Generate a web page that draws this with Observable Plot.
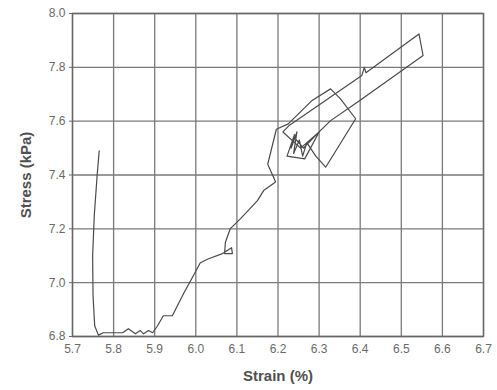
<!DOCTYPE html>
<html>
<head>
<meta charset="utf-8">
<script src="https://cdn.jsdelivr.net/npm/d3@7"></script>
<script src="https://cdn.jsdelivr.net/npm/@observablehq/plot@0.6"></script>
<style>
  html, body { margin: 0; padding: 0; background: #fff; }
  #chart svg { display: block; }
</style>
</head>
<body>
<div id="chart"></div>
<script>
// Stress–strain record of a single loading test (strain in %, stress in kPa)
const strain = [
  5.765, 5.760, 5.753, 5.749, 5.750, 5.754, 5.763, 5.775, 5.800, 5.822,
  5.836, 5.853, 5.865, 5.873, 5.885, 5.895, 5.907, 5.921, 5.943, 5.970,
  5.994, 6.011, 6.031, 6.065, 6.087, 6.089, 6.070, 6.072, 6.084, 6.109,
  6.150, 6.165, 6.189, 6.194, 6.175, 6.196, 6.225, 6.283, 6.328, 6.352,
  6.389, 6.316, 6.292, 6.270, 6.260, 6.252, 6.238, 6.246, 6.232, 6.240,
  6.222, 6.265, 6.300, 6.255, 6.212, 6.228, 6.404, 6.410, 6.414,
  6.543, 6.553, 6.393, 6.328, 6.300, 6.262, 6.245
];
const stress = [
  7.490, 7.400, 7.250, 7.100, 6.950, 6.840, 6.805, 6.814, 6.814, 6.814,
  6.829, 6.810, 6.822, 6.810, 6.822, 6.814, 6.840, 6.877, 6.877, 6.959,
  7.026, 7.074, 7.089, 7.108, 7.130, 7.108, 7.108, 7.150, 7.201, 7.238,
  7.305, 7.342, 7.368, 7.375, 7.440, 7.570, 7.590, 7.677, 7.720, 7.683,
  7.609, 7.429, 7.470, 7.520, 7.470, 7.530, 7.480, 7.560, 7.500, 7.550,
  7.470, 7.460, 7.560, 7.500, 7.560, 7.585, 7.770, 7.800, 7.780,
  7.924, 7.844, 7.670, 7.602, 7.560, 7.500, 7.530
];

const xTicks = [5.7, 5.8, 5.9, 6.0, 6.1, 6.2, 6.3, 6.4, 6.5, 6.6, 6.7];
const yTicks = [6.8, 7.0, 7.2, 7.4, 7.6, 7.8, 8.0];

const rows = strain.map((s, i) => ({strain: s, stress: stress[i]}));

const gridColor = "#7a7a7a";
const textColor = "#6a6a6a";

const chart = Plot.plot({
  width: 497,
  height: 390,
  marginLeft: 72,
  marginRight: 14,
  marginTop: 13,
  marginBottom: 54,
  style: {fontFamily: "Liberation Sans, Arial, sans-serif", fontSize: "12px", color: textColor, background: "#fff"},
  x: {domain: [5.7, 6.7]},
  y: {domain: [6.8, 8.0]},
  marks: [
    Plot.gridX(xTicks, {stroke: gridColor, strokeOpacity: 1, strokeWidth: 1.3}),
    Plot.gridY(yTicks, {stroke: gridColor, strokeOpacity: 1, strokeWidth: 1.3}),
    Plot.frame({stroke: "#666", strokeWidth: 1.4}),
    Plot.axisX(xTicks, {
      tickSize: 0, tickPadding: 8, tickFormat: d => d.toFixed(1),
      label: "Strain (%)", labelAnchor: "center", labelOffset: 44, labelArrow: "none"
    }),
    Plot.axisY(yTicks, {
      tickSize: 3, tickPadding: 4, tickFormat: d => d.toFixed(1),
      label: "Stress (kPa)", labelAnchor: "center", labelOffset: 52, labelArrow: "none"
    }),
    Plot.line(rows, {x: "strain", y: "stress", stroke: "#4a4a4a", strokeWidth: 1.2, curve: "linear"})
  ]
});

d3.select(chart).selectAll("[aria-label$='axis label'] text, [aria-label$='axis label']")
  .style("font-weight", "bold").style("font-size", "15px").attr("fill", "#505050");

document.getElementById("chart").append(chart);
</script>
</body>
</html>
